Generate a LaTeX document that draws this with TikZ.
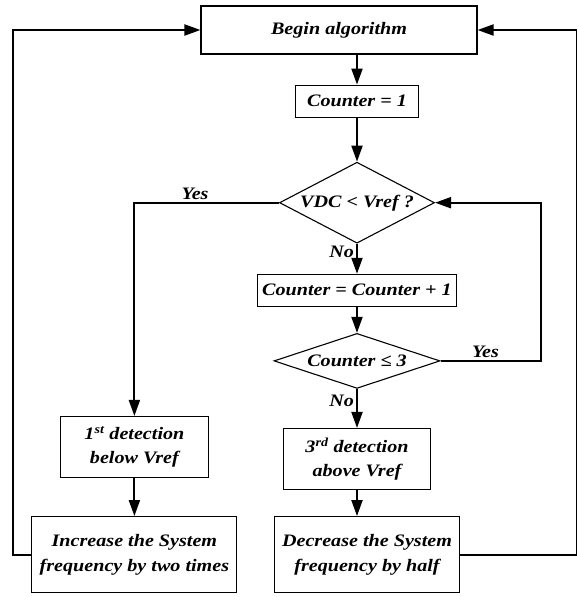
\documentclass[tikz,border=0pt]{standalone}
\usepackage{fontspec}
\setmainfont{Liberation Serif}[FakeStretch=1.15]
\usetikzlibrary{shapes.geometric,arrows.meta,positioning}

\begin{document}
\begin{tikzpicture}[
    x=1pt, y=-1pt,
    node distance=30pt,
    box/.style={rectangle, draw, line width=1.1pt, inner sep=0pt, align=center, font=\fontsize{17.5}{24.5}\selectfont\bfseries\itshape},
    decision/.style={diamond, draw, line width=1.1pt, inner sep=0pt, align=center, font=\fontsize{17.5}{24.5}\selectfont\bfseries\itshape},
    arrow/.style={-{Triangle[length=16pt,width=11pt]}, line width=2pt},
    lbl/.style={inner sep=2pt, font=\fontsize{17.5}{24.5}\selectfont\bfseries\itshape}
]
\useasboundingbox (0,0) rectangle (577,597);

\node[box, minimum width=276pt, minimum height=48pt] (begin) at (339,30) {Begin algorithm};
\node[box, minimum width=123pt, minimum height=32pt, below=30pt of begin, xshift=18pt] (cnt1) {Counter = 1};
\node[decision, aspect=1.91, minimum width=155pt, minimum height=81pt, below=44pt of cnt1] (vdc) {VDC < Vref ?};
\node[box, minimum width=199pt, minimum height=32pt, below=30pt of vdc] (inc) {Counter = Counter + 1};
\node[decision, aspect=3, minimum width=166pt, minimum height=55pt, below=26pt of inc] (cle3) {Counter ≤ 3};
\node[box, minimum width=147pt, minimum height=61pt, below=39pt of cle3] (det3) {3\textsuperscript{rd} detection\\above Vref};
\node[box, minimum width=185pt, minimum height=76pt, below=26pt of det3, xshift=10pt] (dec) {Decrease the System\\frequency by half};
\node[box, minimum width=148pt, minimum height=61pt, left=74pt of det3, yshift=12pt] (det1) {1\textsuperscript{st} detection\\below Vref};
\node[box, minimum width=205pt, minimum height=76pt, below=38pt of det1] (incr) {Increase the System\\frequency by two times};

\draw[arrow] (cnt1.north |- begin.south) -- (cnt1.north);
\draw[arrow] (cnt1) -- (vdc);
\draw[arrow] (vdc) -- node[lbl, left, pos=0.27] {No} (inc);
\draw[arrow] (inc) -- (cle3);
\draw[arrow] (cle3) -- node[lbl, left, pos=0.3] {No} (det3);
\draw[arrow] (det3.south) -- (det3.south |- dec.north);
\draw[arrow] (vdc.west) -| node[lbl, above, pos=0.29] {Yes} (det1.north);
\draw[arrow] (det1) -- (incr);
\draw[arrow] (cle3.east) -- node[lbl, above, pos=0.45] {Yes} ++(100,0) |- (vdc.east);
\draw[arrow] (incr.west) -- ++(-18.5,0) |- (begin.west);
\draw[arrow] (dec.east) -- ++(116.5,0) |- (begin.east);
\end{tikzpicture}
\end{document}
